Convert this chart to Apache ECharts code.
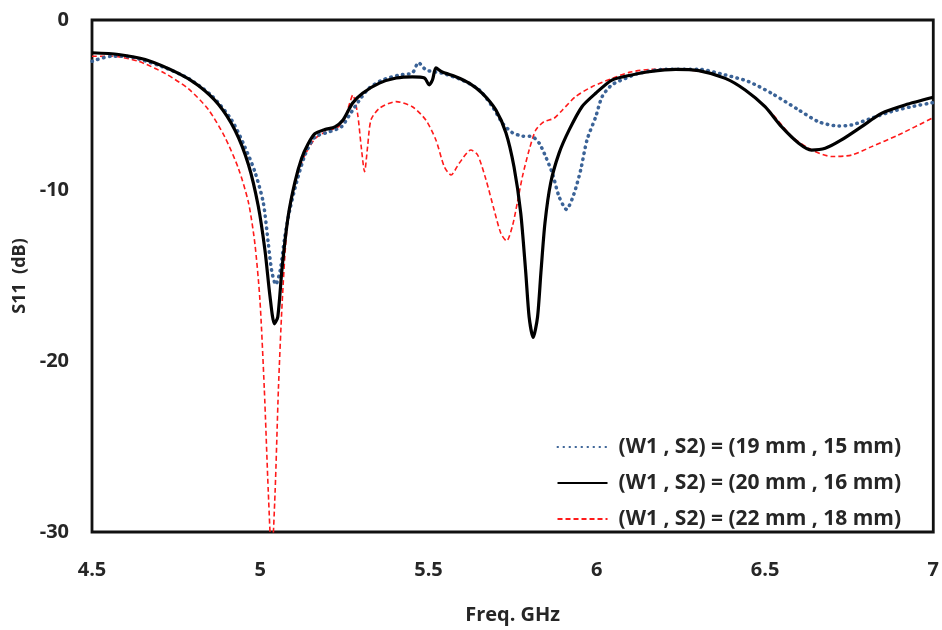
<!DOCTYPE html>
<html>
<head>
<meta charset="utf-8">
<title>S11 vs frequency</title>
<script src="https://cdn.jsdelivr.net/npm/echarts@6/dist/echarts.min.js"></script>
<style>
  html, body { margin: 0; padding: 0; background: #fff; }
  #chart { width: 942px; height: 630px; }
</style>
</head>
<body>
<div id="chart"></div>
<script>
// Axis ticks
const freqTicks = { min: 4.5, max: 7, step: 0.5 };
const s11Ticks = { min: -30, max: 0, step: 10 };

// Legend names
const seriesNames = [
  '(W1 , S2) = (19 mm , 15 mm)',
  '(W1 , S2) = (20 mm , 16 mm)',
  '(W1 , S2) = (22 mm , 18 mm)'
];

// Reflection coefficient [GHz, dB] for W1 = 19 mm, S2 = 15 mm
const s11_19_15 = [
  [4.5,-2.42],[4.559,-2.12],[4.619,-2.18],[4.708,-2.73],[4.787,-3.43],[4.856,-4.44],
  [4.915,-5.86],[4.955,-7.47],[4.984,-8.89],[5.009,-10.7],[5.024,-13.1],[5.034,-14.7],
  [5.046,-15.5],[5.059,-14.7],[5.073,-12.7],[5.088,-11.1],[5.108,-9.5],[5.133,-7.9],
  [5.162,-6.87],[5.202,-6.57],[5.241,-6.26],[5.265,-5.57],[5.295,-4.69],[5.324,-3.98],
  [5.363,-3.52],[5.413,-3.22],[5.452,-3.1],[5.47,-2.5],[5.493,-2.93],[5.541,-3.12],
  [5.6,-3.52],[5.651,-4.1],[5.69,-5.08],[5.72,-6.05],[5.749,-6.6],[5.779,-6.8],
  [5.808,-6.83],[5.829,-7.22],[5.848,-8.0],[5.868,-8.98],[5.888,-10.35],[5.91,-11.1],
  [5.932,-10.2],[5.952,-8.8],[5.971,-7.03],[5.997,-5.66],[6.016,-4.49],[6.045,-3.8],
  [6.086,-3.42],[6.125,-3.12],[6.204,-2.89],[6.303,-2.89],[6.382,-3.22],[6.451,-3.61],
  [6.52,-4.3],[6.6,-5.27],[6.659,-5.96],[6.718,-6.21],[6.757,-6.15],[6.816,-5.76],
  [6.875,-5.37],[6.935,-5.08],[7.0,-4.84]
];

// Reflection coefficient [GHz, dB] for W1 = 20 mm, S2 = 16 mm
const s11_20_16 = [
  [4.5,-1.92],[4.579,-2.02],[4.658,-2.32],[4.757,-3.13],[4.816,-3.84],[4.876,-4.95],
  [4.925,-6.46],[4.965,-8.48],[4.994,-10.9],[5.014,-13.5],[5.029,-16.2],[5.042,-17.8],
  [5.052,-17.4],[5.065,-14.5],[5.083,-11.5],[5.103,-9.5],[5.123,-8.1],[5.142,-7.27],
  [5.162,-6.67],[5.192,-6.42],[5.222,-6.26],[5.246,-5.86],[5.274,-4.88],[5.304,-4.29],
  [5.354,-3.7],[5.404,-3.4],[5.452,-3.33],[5.488,-3.4],[5.502,-3.8],[5.512,-3.5],
  [5.522,-2.81],[5.541,-3.05],[5.581,-3.32],[5.621,-3.7],[5.66,-4.3],[5.7,-5.27],
  [5.73,-6.6],[5.754,-8.6],[5.774,-11.3],[5.789,-14.8],[5.799,-17.4],[5.811,-18.6],
  [5.824,-17.4],[5.834,-14.8],[5.846,-11.9],[5.863,-9.55],[5.888,-7.8],[5.918,-6.44],
  [5.956,-5.08],[5.997,-4.29],[6.045,-3.52],[6.104,-3.22],[6.155,-3.03],[6.234,-2.89],
  [6.303,-2.97],[6.382,-3.42],[6.441,-4.1],[6.5,-5.08],[6.549,-6.25],[6.6,-7.22],
  [6.638,-7.62],[6.679,-7.52],[6.727,-7.03],[6.787,-6.25],[6.846,-5.47],[6.916,-4.98],
  [7.0,-4.53]
];

// Reflection coefficient [GHz, dB] for W1 = 22 mm, S2 = 18 mm
const s11_22_18 = [
  [4.5,-2.12],[4.559,-2.12],[4.638,-2.42],[4.717,-3.13],[4.787,-4.04],[4.846,-5.25],
  [4.895,-6.87],[4.935,-8.69],[4.965,-10.7],[4.984,-13.1],[4.999,-16.4],[5.012,-21.6],
  [5.024,-27.7],[5.034,-31.5],[5.044,-27.7],[5.054,-21.6],[5.065,-16.6],[5.078,-12.5],
  [5.093,-10.3],[5.113,-8.9],[5.133,-7.9],[5.162,-6.97],[5.192,-6.57],[5.232,-6.26],
  [5.251,-5.76],[5.266,-4.85],[5.275,-4.39],[5.289,-5.47],[5.3,-7.42],[5.31,-8.89],
  [5.319,-7.42],[5.329,-5.86],[5.354,-5.17],[5.404,-4.78],[5.452,-5.08],[5.492,-5.86],
  [5.522,-7.03],[5.547,-8.6],[5.567,-9.08],[5.591,-8.4],[5.626,-7.62],[5.646,-7.91],
  [5.671,-9.37],[5.695,-11.13],[5.715,-12.5],[5.732,-12.95],[5.749,-12.1],[5.764,-10.7],
  [5.779,-9.18],[5.799,-7.62],[5.819,-6.44],[5.843,-5.96],[5.873,-5.76],[5.898,-5.27],
  [5.937,-4.49],[5.987,-3.9],[6.046,-3.42],[6.096,-3.07],[6.164,-2.89],[6.253,-2.89],
  [6.333,-3.12],[6.402,-3.61],[6.461,-4.39],[6.52,-5.47],[6.58,-6.83],[6.639,-7.62],
  [6.699,-8.0],[6.758,-7.91],[6.817,-7.42],[6.896,-6.74],[7.0,-5.72]
];

const FONT = '"Open Sans", "Liberation Sans", sans-serif';
const TEXT = '#262626';
const BLUE = '#3b6397';
const BLACK = '#000000';
const RED = '#ff1a1a';

const chart = echarts.init(document.getElementById('chart'), null, { renderer: 'canvas' });

chart.setOption({
  animation: false,
  backgroundColor: '#fff',
  color: [BLUE, BLACK, RED],
  grid: {
    left: 92, right: 7, top: 20, bottom: 98,
    show: true,
    borderColor: '#111',
    borderWidth: 2.8,
    backgroundColor: 'transparent'
  },
  legend: {
    orient: 'vertical',
    right: 36,
    top: 431,
    itemWidth: 50,
    itemHeight: 14,
    itemGap: 14,
    data: seriesNames,
    // line-only keys: hide the marker dot drawn on top of each key line
    itemStyle: { opacity: 0 },
    textStyle: {
      fontFamily: FONT, fontWeight: 'bold', fontSize: 21, color: TEXT,
      lineHeight: 22, padding: [0, 0, 0, 6]
    }
  },
  xAxis: {
    type: 'value',
    min: freqTicks.min, max: freqTicks.max, interval: freqTicks.step,
    name: 'Freq. GHz',
    nameLocation: 'middle',
    nameGap: 73,
    nameTextStyle: { fontFamily: FONT, fontWeight: 'bold', fontSize: 20, color: TEXT },
    axisLine: { show: false },
    axisTick: { show: false },
    splitLine: { show: false },
    axisLabel: {
      margin: 28,
      fontFamily: FONT, fontWeight: 'bold', fontSize: 20, color: TEXT
    }
  },
  yAxis: {
    type: 'value',
    min: s11Ticks.min, max: s11Ticks.max, interval: s11Ticks.step,
    name: 'S11  (dB)',
    nameLocation: 'middle',
    nameGap: 60,
    nameRotate: 90,
    nameTextStyle: { fontFamily: FONT, fontWeight: 'bold', fontSize: 18, color: TEXT },
    axisLine: { show: false },
    axisTick: { show: false },
    splitLine: { show: false },
    axisLabel: {
      margin: 23,
      fontFamily: FONT, fontWeight: 'bold', fontSize: 20, color: TEXT
    }
  },
  series: [
    {
      name: seriesNames[0],
      type: 'line',
      data: s11_19_15,
      symbol: 'none',
      smooth: 0.25,
      z: 3,
      itemStyle: { color: BLUE },
      lineStyle: { color: BLUE, width: 3.5, type: [0.5, 5.5], cap: 'round' }
    },
    {
      name: seriesNames[1],
      type: 'line',
      data: s11_20_16,
      symbol: 'none',
      smooth: 0.25,
      z: 4,
      itemStyle: { color: BLACK },
      lineStyle: { color: BLACK, width: 3.2 }
    },
    {
      name: seriesNames[2],
      type: 'line',
      data: s11_22_18,
      symbol: 'none',
      smooth: 0.25,
      z: 2,
      itemStyle: { color: RED },
      lineStyle: { color: RED, width: 1.6, type: [5, 3] }
    }
  ]
});
</script>
</body>
</html>
